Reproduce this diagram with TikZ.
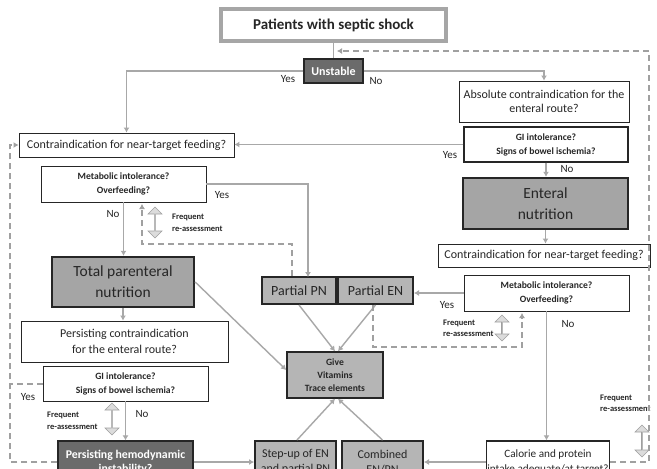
\documentclass[tikz,border=0pt]{standalone}
\usepackage{fontspec}
\setmainfont{Carlito}
\usetikzlibrary{arrows.meta,shapes.arrows,calc}
\definecolor{txt}{HTML}{262626}
\definecolor{conn}{HTML}{A8A8A8}
\definecolor{darkfill}{HTML}{6B6B6B}
\definecolor{midfill}{HTML}{A5A5A5}
\definecolor{lightfill}{HTML}{B5B5B5}
\definecolor{bord}{HTML}{262626}
\definecolor{dafill}{HTML}{DCDCDC}
\definecolor{daline}{HTML}{A0A0A0}
\definecolor{titleb}{HTML}{A6A6A6}
\tikzset{
  box/.style={rectangle, draw=bord, line width=0.9pt, fill=white, align=center, inner sep=1pt, text=txt},
  qbox/.style={box, font=\fontsize{12}{14.5}\selectfont},
  sbox/.style={box, font=\bfseries\fontsize{9.6}{14}\selectfont},
  gbox/.style={box, fill=midfill, line width=2.4pt, font=\fontsize{15.5}{21}\selectfont},
  pbox/.style={box, fill=lightfill, line width=2pt, font=\fontsize{14}{16}\selectfont},
  dbox/.style={box, fill=darkfill, text=white, line width=1.2pt, font=\bfseries\fontsize{11.8}{14}\selectfont},
  lbl/.style={font=\fontsize{11}{12}\selectfont, text=txt, inner sep=0},
  fr/.style={font=\bfseries\fontsize{8.5}{11.5}\selectfont, align=left, anchor=west, inner sep=0, text=txt},
  arr/.style={draw=conn, line width=1.4pt, -{Latex[length=5pt,width=6pt]}},
  ln/.style={draw=conn, line width=1.4pt},
  dsh/.style={draw=daline, line width=2pt, dash pattern=on 6pt off 4pt},
  dsha/.style={dsh, -{Latex[length=5pt,width=6pt]}},
  dbl/.style={double arrow, draw=gray!75, fill=dafill, line width=0.6pt, rotate=90, inner sep=0pt,
    minimum width=14pt, double arrow head extend=3.5pt, double arrow head indent=0pt}
}
\begin{document}
\begin{tikzpicture}[x=1pt,y=-1pt]
\path[use as bounding box] (0,0) rectangle (657,469);
\clip (0,0) rectangle (657,469);
\fill[white] (0,0) rectangle (657,469);

% nodes
\node[box, draw=titleb, line width=3.5pt, minimum width=225pt, minimum height=32pt,
  font=\bfseries\fontsize{15}{17}\selectfont] (title) at (333.5,25) {Patients with septic shock};
\node[dbox, minimum width=59pt, minimum height=24pt, font=\bfseries\fontsize{12}{13}\selectfont] (unst) at (333.5,71) {Unstable};
\node[qbox, minimum width=215pt, minimum height=24pt] (contra1) at (126.5,145) {Contraindication for near-target feeding?};
\node[qbox, minimum width=170pt, minimum height=41pt] (abs) at (544,101.5) {Absolute contraindication for the\\enteral route?};
\node[sbox, line width=1.4pt, minimum width=164pt, minimum height=35pt] (gi1) at (546,144.5) {GI intolerance?\\Signs of bowel ischemia?};
\node[gbox, minimum width=165pt, minimum height=51pt] (ent) at (545.5,203.5) {Enteral\\nutrition};
\node[qbox, minimum width=212pt, minimum height=23pt] (contra2) at (544,255.5) {Contraindication for near-target feeding?};
\node[sbox, minimum width=165pt, minimum height=36pt] (met2) at (546.5,293) {Metabolic intolerance?\\Overfeeding?};
\node[pbox, minimum width=75pt, minimum height=27pt] (pen) at (375.5,290.5) {Partial EN};
\node[pbox, minimum width=74pt, minimum height=27pt] (ppn) at (299,290.5) {Partial PN};
\node[box, fill=lightfill, line width=1.5pt, minimum width=96pt, minimum height=46pt,
  font=\bfseries\fontsize{9.6}{12.7}\selectfont] (give) at (335,375) {Give\\Vitamins\\Trace elements};
\node[sbox, minimum width=165pt, minimum height=36pt] (met1) at (123.5,184) {Metabolic intolerance?\\Overfeeding?};
\node[gbox, minimum width=142pt, minimum height=50pt] (tpn) at (123,282) {Total parenteral\\nutrition};
\node[qbox, minimum width=207pt, minimum height=41pt, font=\fontsize{12}{16}\selectfont] (pers) at (124.5,341.5) {Persisting contraindication\\for the enteral route?};
\node[sbox, minimum width=165pt, minimum height=35pt] (gi2) at (125.5,383.5) {GI intolerance?\\Signs of bowel ischemia?};
\node[dbox, minimum width=135pt, minimum height=42pt] (hemo) at (125.5,462) {Persisting hemodynamic\\instability?};
\node[pbox, line width=2pt, minimum width=81pt, minimum height=42pt, font=\fontsize{12}{15}\selectfont] (step) at (295.5,462) {Step-up of EN\\and partial PN};
\node[pbox, line width=2pt, minimum width=81pt, minimum height=42pt, font=\fontsize{12}{15}\selectfont] (comb) at (382.5,462) {Combined\\EN/PN};
\node[qbox, line width=1.4pt, minimum width=120pt, minimum height=42pt, font=\fontsize{11.2}{15}\selectfont] (cal) at (548,462) {Calorie and protein\\intake adequate/at target?};

% double arrows
\node[dbl, minimum height=31pt] (da1) at (155,222.5) {};
\node[dbl, minimum height=32pt] (da2) at (112,419) {};
\node[dbl, minimum height=26pt] (da3) at (502,328) {};
\node[dbl, minimum height=32pt] (da4) at (642,441) {};

% frequent labels
\node[fr] (fr1) at (172,223) {Frequent\\re-assessment};
\node[fr] (fr2) at (47,421) {Frequent\\re-assessment};
\node[fr] (fr3) at (443,328.5) {Frequent\\re-assessment};
\node[fr] (fr4) at (600,403.5) {Frequent\\re-assessment};

% yes/no labels
\node[lbl] (y1) at (288,79) {Yes};
\node[lbl] (n1) at (376,81) {No};
\node[lbl] (y2) at (450,155) {Yes};
\node[lbl] (n2) at (567,169) {No};
\node[lbl] (y3) at (222,195) {Yes};
\node[lbl] (n3) at (113,214) {No};
\node[lbl] (y4) at (447,305) {Yes};
\node[lbl] (n4) at (568,324) {No};
\node[lbl] (y5) at (28,397) {Yes};
\node[lbl] (n5) at (142,414) {No};

% coordinates
\coordinate (tin) at (337,51);
\coordinate (rx) at (649,462);
\coordinate (lx) at (10,462);
\coordinate (ppnin) at (308,277);
\coordinate (d3a) at (292,244);
\coordinate (d3b) at (142,244);
\coordinate (d3c) at (142,204);
\coordinate (d2a) at (373,347);
\coordinate (d2b) at (522,347);
\coordinate (d2c) at (522,313);

% solid connectors
\draw[ln] (title.south) -- (unst.north);
\draw[arr] (unst.west) -| (contra1.north);
\draw[arr] (unst.east) -| (abs.north);
\draw[arr] (gi1.west) -- (gi1.west -| contra1.east);
\draw[arr] (gi1.south) -- (gi1.south |- ent.north);
\draw[arr] (ent.south) -- (ent.south |- contra2.north);
\draw[arr] (met2.west) -- (met2.west -| pen.east);
\draw[arr] (met2.south) -- (met2.south |- cal.north);
\draw[arr] (met1.east) -| (ppnin);
\draw[arr] (met1.south) -- (met1.south |- tpn.north);
\draw[arr] (tpn.south) -- (tpn.south |- pers.north);
\draw[arr] (gi2.south) -- (gi2.south |- hemo.north);
\draw[arr] (hemo.east) -- (step.west);
\draw[arr] (cal.west) -- (comb.east);
\draw[arr] (ppn.south) -- (give.north);
\draw[arr] (pen.south) -- ([xshift=3pt]give.north);
\draw[arr] (tpn.east) -- ([yshift=5pt]give.west);
\draw[arr] ([xshift=1.5pt]step.north) -- (give.south);
\draw[arr] (comb.north) -- ([xshift=3pt]give.south);

% dashed connectors
\draw[dsha] (cal.east) -- (rx) |- (tin);
\draw[dsha] (hemo.west) -- (lx) |- (contra1.west);
\draw[dsh] (gi2.west) -- (gi2.west -| lx);
\draw[dsha] (d3a |- ppn.north) -- (d3a) -- (d3b) -- (d3c);
\draw[dsha] (d2a |- pen.south) -- (d2a) -- (d2b) -- (d2c);
\end{tikzpicture}
\end{document}
